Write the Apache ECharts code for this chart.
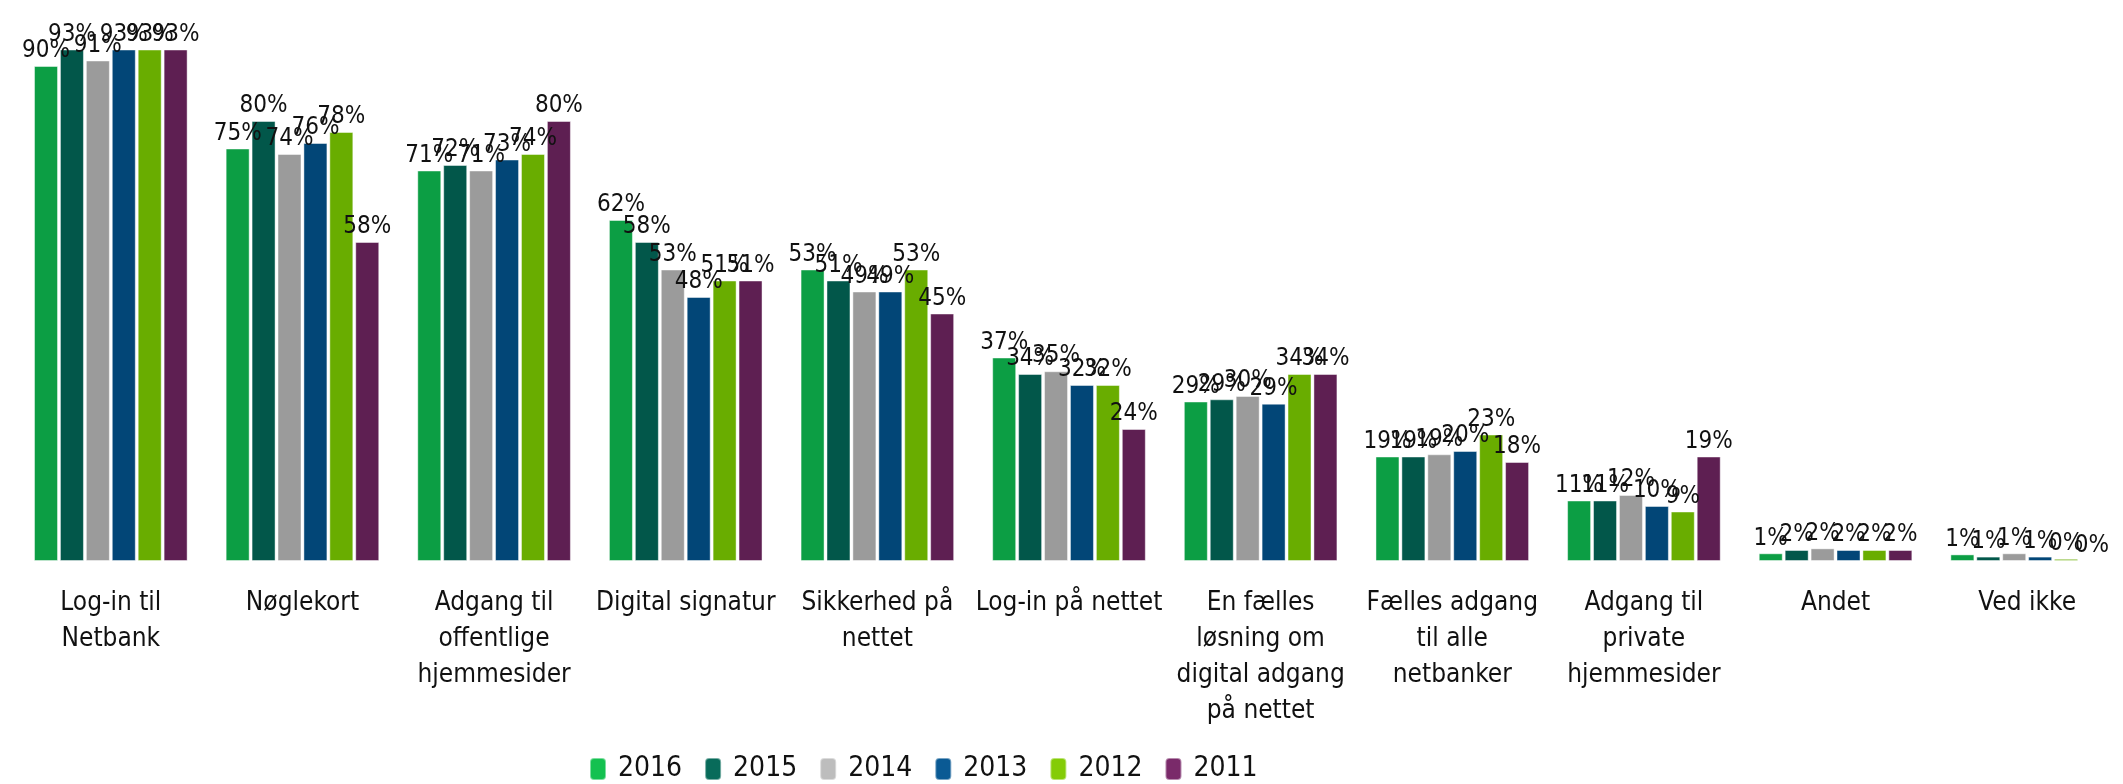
<!DOCTYPE html>
<html>
<head>
<meta charset="utf-8">
<script src="https://cdn.jsdelivr.net/npm/echarts@6/dist/echarts.min.js"></script>
<style>
  html, body { margin: 0; padding: 0; background: #fff; }
  #chart { width: 2123px; height: 784px; }
</style>
</head>
<body>
<div id="chart"></div>
<script>
var categories = [
    'Log-in til\nNetbank',
    'Nøglekort',
    'Adgang til\noffentlige\nhjemmesider',
    'Digital signatur',
    'Sikkerhed på\nnettet',
    'Log-in på nettet',
    'En fælles\nløsning om\ndigital adgang\npå nettet',
    'Fælles adgang\ntil alle\nnetbanker',
    'Adgang til\nprivate\nhjemmesider',
    'Andet',
    'Ved ikke'
];
var years = ['2016', '2015', '2014', '2013', '2012', '2011'];

var v2016 = [90, 75, 71, 62, 53, 37, 29, 19, 11, 1.4, 1.2];
var v2015 = [93, 80, 72, 58, 51, 34, 29.4, 19, 11, 2, 0.8];
var v2014 = [91, 74, 71, 53, 49, 34.5, 30, 19.4, 12, 2.3, 1.4];
var v2013 = [93, 76, 73, 48, 49, 32, 28.6, 20, 10, 2, 0.8];
var v2012 = [93, 78, 74, 51, 53, 32, 34, 23, 9, 2, 0.4];
var v2011 = [93, 58, 80, 51, 45, 24, 34, 18, 19, 2, 0];

var barColors = ['#0c9e44', '#02574a', '#9b9b9b', '#024677', '#69ad00', '#5e1f52'];
var legendColors = ['#14c150', '#086b5a', '#bdbdbd', '#0a5a94', '#84cc07', '#7a2a6a'];

var FONT = '"DejaVu Sans Condensed", "Liberation Sans Narrow", sans-serif';

var CHART = {
    init: function(){
        var _this = this;
        var myChart = echarts.init(document.getElementById('chart'));
        myChart.setOption(_this.build_option());
    },
    build_series: function(){
        var all = [v2016, v2015, v2014, v2013, v2012, v2011];
        var series = [];
        for (var i = 0; i < years.length; i++) {
            series.push({
                name: years[i],
                type: 'bar',
                data: all[i],
                barWidth: 24,
                barGap: '8%',
                itemStyle: {
                    color: barColors[i],
                    borderColor: 'rgba(255,255,255,0.45)',
                    borderWidth: 1
                },
                label: {
                    show: true,
                    position: 'top',
                    distance: 3,
                    fontFamily: FONT,
                    fontSize: 24,
                    color: '#111',
                    formatter: function(p){ return Math.round(p.value) + '%'; }
                }
            });
        }
        return series;
    },
    build_option: function(){
        var _this = this;
        return {
            animation: false,
            textStyle: { fontFamily: FONT },
            grid: { left: 15, width: 2112, top: 11, bottom: 223 },
            legend: {
                data: years.map(function(y, i){
                    return { name: y, itemStyle: { color: legendColors[i] } };
                }),
                left: 584,
                top: 750,
                icon: 'roundRect',
                itemWidth: 16,
                itemHeight: 22,
                itemGap: 22,
                textStyle: { fontFamily: FONT, fontSize: 28, color: '#111', padding: [0, 0, 0, 7] }
            },
            xAxis: {
                type: 'category',
                data: categories,
                axisLine: { show: false },
                axisTick: { show: false },
                axisLabel: {
                    interval: 0,
                    margin: 24,
                    fontFamily: FONT,
                    fontSize: 26,
                    lineHeight: 36,
                    color: '#111'
                }
            },
            yAxis: {
                type: 'value',
                min: 0,
                max: 100,
                show: false,
                splitLine: { show: false }
            },
            series: _this.build_series()
        };
    }
};

CHART.init();
</script>
</body>
</html>
